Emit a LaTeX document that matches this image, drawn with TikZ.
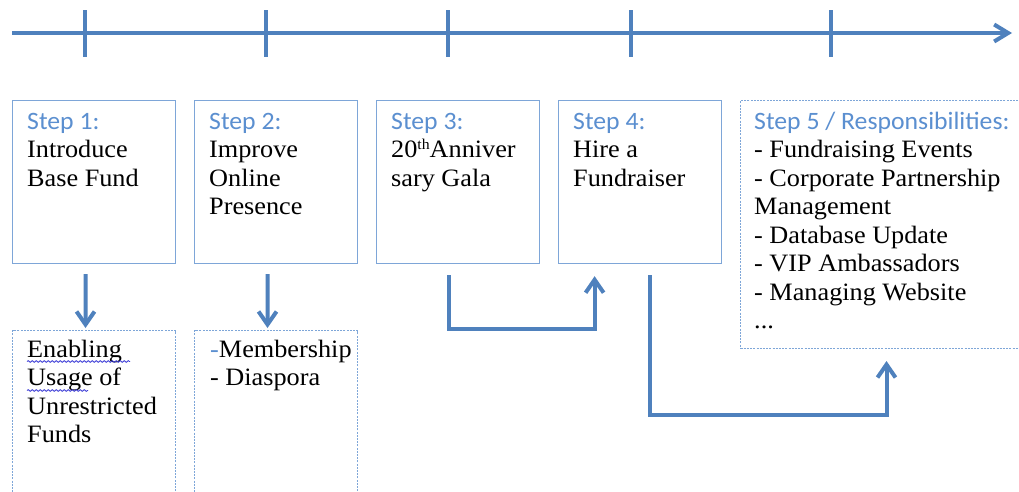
\documentclass[tikz,border=0pt]{standalone}
\usepackage{fontspec}
\setmainfont{Liberation Serif}[FakeStretch=1.05]
\newfontfamily\stepfont{Carlito}[FakeStretch=1.03]
\usetikzlibrary{arrows.meta,decorations.pathmorphing}
\definecolor{axisblue}{HTML}{4F81BD}
\definecolor{frameblue}{HTML}{7EA6D8}
\definecolor{headblue}{HTML}{5B8FD0}
\definecolor{wavyblue}{HTML}{3A3AD6}
% stacked lines with a fixed baseline distance; the baseline is that of the first line
\newcommand\linestack[1]{\vtop{\baselineskip=28.5pt\lineskiplimit=-100pt\halign{##\hfil\cr#1\crcr}}}
\newcommand\stephead[1]{{\stepfont\color{headblue}#1}}
\newcommand\smallsup[1]{\raisebox{8pt}{\fontsize{15pt}{15pt}\selectfont #1}}
\begin{document}
\begin{tikzpicture}[x=1pt,y=-1pt,
  axisline/.style={draw=axisblue,line width=4pt,-{Straight Barb[length=14pt,width=17pt,line width=4pt]}},
  tickline/.style={draw=axisblue,line width=4pt},
  flow/.style={draw=axisblue,line width=4pt,line join=miter,-{Straight Barb[length=13pt,width=18pt,line width=4pt]}},
  stepbox/.style={draw=frameblue,line width=1.2pt,minimum width=163pt,minimum height=163pt,anchor=north west,inner sep=0pt},
  notebox/.style={draw=frameblue,line width=1pt,dash pattern=on 2pt off 1.2pt,anchor=north west,inner sep=0pt},
  txt/.style={anchor=base west,inner sep=0pt,font=\fontsize{25pt}{28.5pt}\selectfont},
  wavy/.style={draw=wavyblue,line width=0.8pt,decorate,decoration={snake,amplitude=0.9pt,segment length=4pt}}]
\clip (0,0) rectangle (1019,491);
\fill[white] (0,0) rectangle (1019,491);

% time axis
\coordinate (ax0) at (12,33);
\coordinate (ax1) at (1012,33);
\draw[axisline] (ax0) -- (ax1);
\foreach \x in {85,266,448,631,831}
  \draw[tickline] (\x,10) -- (\x,57);

% step boxes
\node[stepbox] (b1) at (12,100) {};
\node[stepbox] (b2) at (194,100) {};
\node[stepbox] (b3) at (376,100) {};
\node[stepbox] (b4) at (558,100) {};
\node[notebox,minimum width=290pt,minimum height=248pt] (b5) at (740,100) {};

% detail boxes below steps 1 and 2
\node[notebox,minimum width=163pt,minimum height=180pt] (d1) at (12,330) {};
\node[notebox,minimum width=163pt,minimum height=180pt] (d2) at (194,330) {};

% texts
\node[txt] (t1) at (27,129) {\linestack{\stephead{Step 1:}\cr Introduce\cr Base Fund}};
\node[txt] (t2) at (209,129) {\linestack{\stephead{Step 2:}\cr Improve\cr Online\cr Presence}};
\node[txt] (t3) at (391,129) {\linestack{\stephead{Step 3:}\cr 20\smallsup{th}Anniver\cr sary Gala}};
\node[txt] (t4) at (573,129) {\linestack{\stephead{Step 4:}\cr Hire a\cr Fundraiser}};
\node[txt] (t5) at (754,129) {\linestack{\stephead{Step 5 / Responsibilities:}\cr
  - Fundraising Events\cr - Corporate Partnership\cr Management\cr
  - Database Update\cr - VIP Ambassadors\cr - Managing Website\cr ...}};
\node[txt] (u1) at (27,357) {\linestack{Enabling\cr Usage of\cr Unrestricted\cr Funds}};
\node[txt] (u2) at (210,357) {\linestack{{\color{headblue}-}Membership\cr - Diaspora}};

% spelling marks under the first words
\draw[wavy] (27,361.5) -- (130,361.5);
\draw[wavy] (27,390.5) -- (88,390.5);

% connectors
\draw[flow] ([xshift=-8.5pt,yshift=-10pt]b1.south) -- ([xshift=-8.5pt,yshift=2pt]d1.north);
\draw[flow] ([xshift=-8.5pt,yshift=-10pt]b2.south) -- ([xshift=-8.5pt,yshift=2pt]d2.north);
\draw[flow] ([xshift=-9.5pt,yshift=-11pt]b3.south) -- ++(0,54) -| ([xshift=-45.5pt,yshift=-12pt]b4.south);
\draw[flow] ([xshift=9.5pt,yshift=-11pt]b4.south) -- ++(0,140) -| ([xshift=1pt,yshift=-12pt]b5.south);
\end{tikzpicture}
\end{document}
